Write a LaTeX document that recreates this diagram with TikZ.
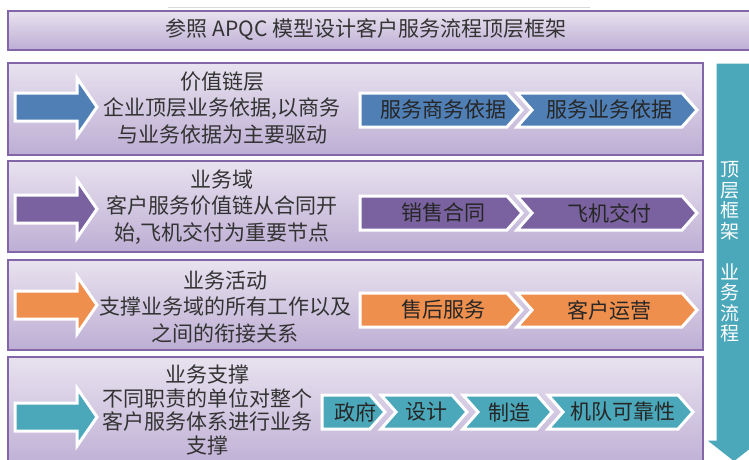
\documentclass[tikz,border=0pt]{standalone}
\usepackage{fontspec}
\setmainfont{Noto Sans CJK SC}
\usetikzlibrary{positioning}

\definecolor{cframe}{HTML}{8266A8}
\definecolor{ctop}{HTML}{E8E2EF}
\definecolor{cbot}{HTML}{BDAED4}
\definecolor{cblue}{HTML}{4F7FB5}
\definecolor{cpurple}{HTML}{7A62A0}
\definecolor{corange}{HTML}{EF8F4E}
\definecolor{cteal}{HTML}{4BA7BA}

\begin{document}
\begin{tikzpicture}[x=1pt, y=-1pt, font=\fontsize{21}{26.5}\selectfont,
    rowbox/.style={draw=cframe, line width=1.5pt, top color=ctop, bottom color=cbot},
    bigarrow/.style={draw=white, line width=3pt, line join=miter},
    chev/.style={draw=white, line width=3pt, line join=miter},
    lbl/.style={align=center, text=black!80, inner sep=0pt},
    chevtext/.style={text=black!85, inner sep=0pt}]

\useasboundingbox (0,0) rectangle (749,459);

% title
\draw[black!15] (168,7) -- (590,7);
\draw[rowbox] (8,11) rectangle (760,50);
\node[lbl] (title) at (366,30) {参照 APQC 模型设计客户服务流程顶层框架};

% layer boxes
\foreach \a/\b in {63/155, 161/252, 260/350, 357/470}
    \draw[rowbox] (8,\a) rectangle (703,\b);

% big arrows on the left
\foreach \y/\c in {107/cblue, 209/cpurple, 305/corange, 417/cteal}
    \draw[bigarrow, fill=\c] (15,\y) ++(0,-14) -- ++(62,0) -- ++(0,-15) -- ++(20,29)
        -- ++(-20,29) -- ++(0,-15) -- ++(-62,0) -- cycle;

% layer texts
\node[lbl] (valuechain) at (222,108) {价值链层\\企业顶层业务依据,以商务\\与业务依据为主要驱动};
\node[lbl] (domain) at (222,207) {业务域\\客户服务价值链从合同开\\始,飞机交付为重要节点};
\node[lbl] (activity) at (225,307) {业务活动\\支撑业务域的所有工作以及\\之间的衔接关系};
\node[lbl, font=\fontsize{21}{23.8}\selectfont] (support) at (207,410)
    {业务支撑\\不同职责的单位对整个\\客户服务体系进行业务\\支撑};

% chevron processes
\foreach \l/\r/\y/\k/\c/\t/\n in {
    360/522/110/0/cblue/服务商务依据/a1, 517/697/110/15/cblue/服务业务依据/a2,
    360/522/213/0/cpurple/销售合同/b1, 517/697/213/15/cpurple/飞机交付/b2,
    360/522/310/0/corange/售后服务/c1, 517/697/310/15/corange/客户运营/c2,
    322/385/412/0/cteal/政府/d1, 381/467/412/15/cteal/设计/d2,
    463/552/412/15/cteal/制造/d3, 548/693/412/15/cteal/机队可靠性/d4}
{
    \draw[chev, fill=\c] (\l,\y-17) -- (\r-15,\y-17) -- (\r,\y) -- (\r-15,\y+17)
        -- (\l,\y+17) -- (\l+\k,\y) -- cycle;
    \node[chevtext] (\n) at ({(\l+\r)/2+2},\y) {\t};
}

% flow arrow on the right
\draw[draw=white, line width=1pt, fill=cteal] (716,63) -- (752,63) -- (752,440) -- (762,440)
    -- (734,462) -- (706,440) -- (716,440) -- cycle;
\node[align=center, text=white, inner sep=0pt, font=\fontsize{19}{20.5}\selectfont]
    (flow) at (730,252) {顶\\层\\框\\架\\[20.5pt]业\\务\\流\\程};

\end{tikzpicture}
\end{document}
